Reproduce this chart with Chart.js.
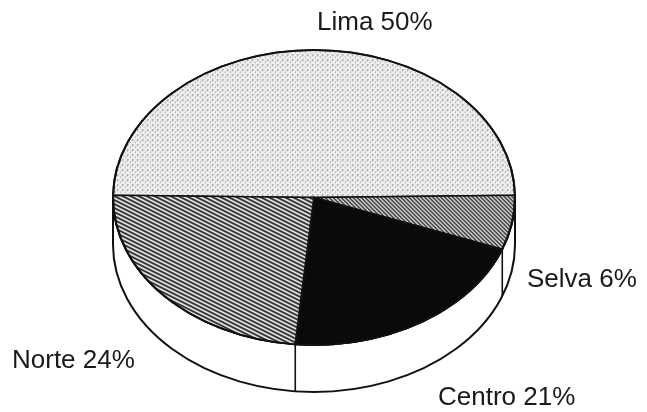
<!DOCTYPE html>
<html>
<head>
<meta charset="utf-8">
<script src="https://cdn.jsdelivr.net/npm/chart.js@4"></script>
<style>
  html, body { margin: 0; padding: 0; background: #fff; }
  #pie { display: block; }
</style>
</head>
<body>
<canvas id="pie" width="647" height="412"></canvas>
<script>
// data (clockwise from the left edge)
const regions = ['Lima', 'Selva', 'Centro', 'Norte'];
const shares = [50, 6, 21, 24];

// where the tilted pie sits on the page
const CX = 314, CY = 197.5, RX = 201, RY = 147.5, DEPTH = 47;
// label anchors (left x, middle y), same order as regions
const labelPos = [[317, 23], [527, 280], [438, 398], [12, 361]];

// shares add up to 101, so centre Lima on the top half
const total = shares.reduce((s, v) => s + v, 0);
const startRot = -90 + (180 - 360 * shares[0] / total) / 2;

//patterns
function tile(w, h, draw) {
  const c = document.createElement('canvas');
  c.width = w; c.height = h;
  const g = c.getContext('2d');
  draw(g, w, h);
  return g.createPattern(c, 'repeat');
}
function hatch(w, h, lw) {
  return tile(w, h, (g) => {
    g.fillStyle = '#fff';
    g.fillRect(0, 0, w, h);
    g.strokeStyle = '#111';
    g.lineWidth = lw;
    for (let k = -1; k <= 1; k++) {
      g.beginPath();
      g.moveTo(-1, k * h - h / w);
      g.lineTo(w + 1, k * h + h + h / w);
      g.stroke();
    }
  });
}
const dots = tile(5, 5, (g) => {
  g.fillStyle = '#efefef';
  g.fillRect(0, 0, 5, 5);
  g.fillStyle = '#a0a0a0';
  g.fillRect(0, 0, 2, 1);
  g.fillRect(0, 1, 1, 1);
  g.fillStyle = '#b4b4b4';
  g.fillRect(3, 2, 1, 2);
});
const fillNorte = hatch(8, 4, 1.8);
const fillSelva = hatch(4, 4, 1.4);
const patterns = [dots, fillNorte, fillSelva];
const fills = [dots, fillSelva, '#0a0a0a', fillNorte];

// squash the flat pie into an ellipse and give it a rim
const tilt = {
  id: 'tilt',
  beforeDatasetsDraw(chart) {
    const ctx = chart.ctx;
    const arcs = chart.getDatasetMeta(0).data;
    const R = arcs[0].outerRadius;
    const sx = RX / R, sy = RY / R;
    patterns.forEach((p) => p.setTransform(new DOMMatrix().scale(1 / sx, 1 / sy)));

    ctx.save();
    ctx.beginPath();
    ctx.moveTo(CX - RX, CY);
    ctx.lineTo(CX - RX, CY + DEPTH);
    ctx.ellipse(CX, CY + DEPTH, RX, RY, 0, Math.PI, 0, true);
    ctx.lineTo(CX + RX, CY);
    ctx.ellipse(CX, CY, RX, RY, 0, 0, Math.PI, false);
    ctx.closePath();
    ctx.fillStyle = '#fff';
    ctx.fill();
    ctx.lineWidth = 2;
    ctx.strokeStyle = '#111';
    ctx.stroke();

    // side edges where slices meet on the front
    ctx.lineWidth = 1.6;
    arcs.forEach((a) => {
      const t = ((a.startAngle % (2 * Math.PI)) + 2 * Math.PI) % (2 * Math.PI);
      if (t > 0.05 && t < Math.PI - 0.05) {
        const x = CX + RX * Math.cos(t);
        const y = CY + RY * Math.sin(t);
        ctx.beginPath();
        ctx.moveTo(x, y);
        ctx.lineTo(x, y + DEPTH);
        ctx.stroke();
      }
    });
    ctx.restore();

    ctx.save();
    ctx.translate(CX, CY);
    ctx.scale(sx, sy);
    ctx.translate(-arcs[0].x, -arcs[0].y);
  },
  afterDatasetsDraw(chart) {
    const ctx = chart.ctx;
    ctx.restore();

    ctx.save();
    ctx.beginPath();
    ctx.ellipse(CX, CY, RX, RY, 0, 0, 2 * Math.PI);
    ctx.lineWidth = 2;
    ctx.strokeStyle = '#111';
    ctx.stroke();

    ctx.font = '26px "Liberation Sans", Arial, sans-serif';
    ctx.fillStyle = '#1a1a1a';
    ctx.textAlign = 'left';
    ctx.textBaseline = 'middle';
    regions.forEach((name, i) => {
      ctx.fillText(name + ' ' + shares[i] + '%', labelPos[i][0], labelPos[i][1]);
    });
    ctx.restore();
  }
};

new Chart(document.getElementById('pie'), {
  type: 'pie',
  data: {
    labels: regions,
    datasets: [{
      data: shares,
      backgroundColor: fills,
      borderColor: '#111',
      borderWidth: 2,
      borderJoinStyle: 'miter'
    }]
  },
  options: {
    responsive: false,
    animation: false,
    events: [],
    rotation: startRot,
    layout: { padding: 0 },
    plugins: {
      legend: { display: false },
      tooltip: { enabled: false }
    }
  },
  plugins: [tilt]
});
</script>
</body>
</html>
